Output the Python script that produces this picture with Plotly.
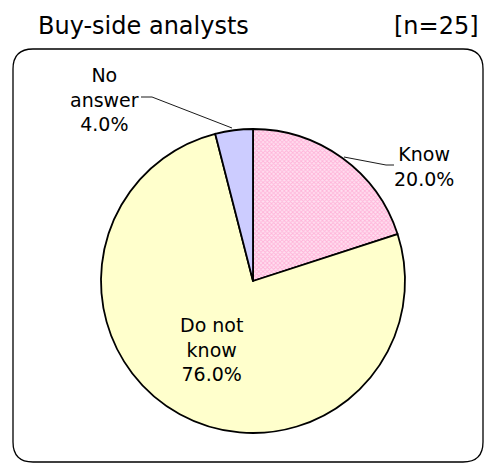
import plotly.graph_objects as go

categories = ["Know", "Do not know", "No answer"]
values = [20.0, 76.0, 4.0]
label_texts = ["Know<br>20.0%", "Do not<br>know<br>76.0%", "No<br>answer<br>4.0%"]
title_text = "Buy-side analysts"
n_text = "[n=25]"

W, H = 485, 464
FONT = "DejaVu Sans"

def px(x):
    return x / W

def py(y):
    return 1 - y / H

fig = go.Figure()
fig.add_trace(go.Pie(
    labels=categories,
    values=values,
    sort=False,
    direction="clockwise",
    rotation=0,
    textinfo="none",
    hoverinfo="label+percent",
    showlegend=False,
    marker=dict(
        colors=["#FFCCE6", "#FFFFCC", "#CCCCFF"],
        line=dict(color="black", width=1.8),
        pattern=dict(shape=["x", "", ""], fgcolor="#FFB3D9", bgcolor="#FFE0F0", size=3, solidity=0.5),
    ),
    domain=dict(x=[px(101), px(405)], y=[py(433), py(129)]),
))

# rounded box
x0, x1, y0, y1, r = 13, 483, 49, 462, 20
path = (f"M {px(x0+r)},{py(y0)} L {px(x1-r)},{py(y0)} Q {px(x1)},{py(y0)} {px(x1)},{py(y0+r)} "
        f"L {px(x1)},{py(y1-r)} Q {px(x1)},{py(y1)} {px(x1-r)},{py(y1)} "
        f"L {px(x0+r)},{py(y1)} Q {px(x0)},{py(y1)} {px(x0)},{py(y1-r)} "
        f"L {px(x0)},{py(y0+r)} Q {px(x0)},{py(y0)} {px(x0+r)},{py(y0)} Z")
fig.add_shape(type="path", path=path, xref="paper", yref="paper",
              line=dict(color="black", width=1.3), layer="below")

# leader lines
lw = dict(color="black", width=0.9)
fig.add_shape(type="path", xref="paper", yref="paper",
              path=f"M {px(141)},{py(97)} L {px(152)},{py(97)} L {px(232)},{py(128)}", line=lw)
fig.add_shape(type="path", xref="paper", yref="paper",
              path=f"M {px(344)},{py(157)} L {px(386)},{py(165)} L {px(394)},{py(165)}", line=lw)

tf = dict(family=FONT, size=19, color="black")
common = dict(showarrow=False, xref="paper", yref="paper", font=tf, align="center",
              xanchor="center", yanchor="middle")
fig.add_annotation(x=px(424), y=py(166), text=label_texts[0], **common)
fig.add_annotation(x=px(211), y=py(349), text=label_texts[1], **common)
fig.add_annotation(x=px(104), y=py(100), text=label_texts[2], **common)

fig.add_annotation(x=px(36), y=py(26), text=title_text, showarrow=False, xref="paper", yref="paper",
                   xanchor="left", yanchor="middle", font=dict(family=FONT, size=24, color="black"))
fig.add_annotation(x=px(481), y=py(26), text=n_text, showarrow=False, xref="paper", yref="paper",
                   xanchor="right", yanchor="middle", font=dict(family=FONT, size=24, color="black"))

fig.update_layout(width=W, height=H, margin=dict(l=0, r=0, t=0, b=0),
                  paper_bgcolor="white", plot_bgcolor="white")

fig.write_html("out.html", config={"displayModeBar": False},
               post_script="document.body.style.margin='0px';")
